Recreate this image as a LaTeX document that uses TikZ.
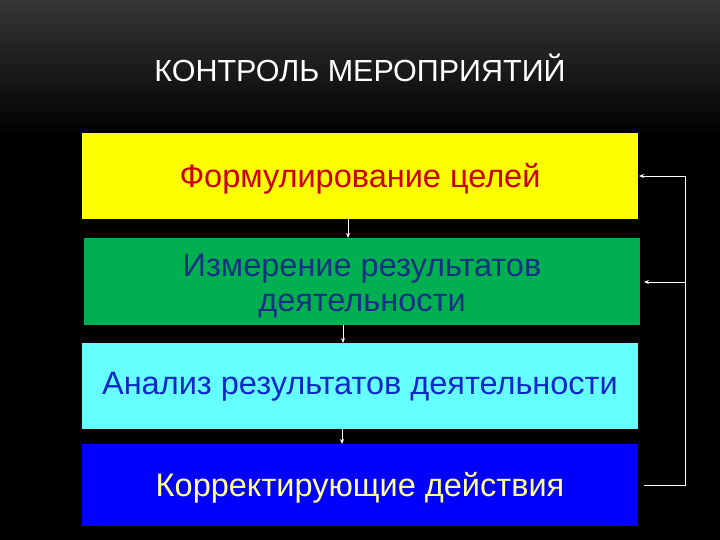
\documentclass[tikz,border=0pt]{standalone}
\usepackage{fontspec}
\setmainfont{Liberation Sans}
\usetikzlibrary{arrows.meta}
\definecolor{ybox}{RGB}{255,255,0}
\definecolor{gbox}{RGB}{0,176,80}
\definecolor{cbox}{RGB}{102,255,255}
\definecolor{bbox}{RGB}{0,0,255}
\definecolor{redtxt}{RGB}{204,0,0}
\definecolor{navytxt}{RGB}{20,50,130}
\definecolor{bluetxt}{RGB}{10,40,200}
\definecolor{yeltxt}{RGB}{255,255,150}
\definecolor{topgray}{RGB}{54,54,54}
\tikzset{
  stage/.style={rectangle, inner sep=0pt, font=\fontsize{32.5}{35}\selectfont, align=center},
  link/.style={draw=white, line width=0.8pt, -{Stealth[length=5pt,width=4pt]}},
  fb/.style={draw=white, line width=0.8pt}
}
\begin{document}
\begin{tikzpicture}[x=1pt,y=-1pt]
\useasboundingbox (0,0) rectangle (720,540);
\fill[black] (0,0) rectangle (720,540);
\shade[top color=topgray, bottom color=black] (0,0) rectangle (720,135);
\node[text=white, font=\fontsize{30.5}{36}\selectfont] (title) at (360,68) {КОНТРОЛЬ МЕРОПРИЯТИЙ};
\path[fill=ybox] (82,133) rectangle (638,219);
\node[stage, text=redtxt] (s1) at (360,179) {Формулирование целей};
\path[fill=gbox] (84,238) rectangle (640,325);
\node[stage, text=navytxt] (s2) at (362,286) {Измерение результатов\\деятельности};
\path[fill=cbox] (82,343) rectangle (638,429);
\node[stage, text=bluetxt] (s3) at (360,387) {Анализ результатов деятельности};
\path[fill=bbox] (82,444) rectangle (638,526);
\node[stage, text=yeltxt] (s4) at (360,488) {Корректирующие действия};
\coordinate (a1) at (348,217);
\coordinate (a2) at (348,238);
\coordinate (b1) at (343,325);
\coordinate (b2) at (343,343);
\coordinate (c1) at (342,429);
\coordinate (c2) at (342,444);
\draw[link] (a1) -- (a2);
\draw[link] (b1) -- (b2);
\draw[link] (c1) -- (c2);
\coordinate (r0) at (644,485);
\coordinate (r1) at (685,485);
\coordinate (r2) at (685,176);
\coordinate (r3) at (639,176);
\coordinate (m1) at (685,282);
\coordinate (m2) at (644,282);
\draw[fb] (r0) -- (r1) -- (r2);
\draw[link] (r2) -- (r3);
\draw[link] (m1) -- (m2);
\end{tikzpicture}
\end{document}
